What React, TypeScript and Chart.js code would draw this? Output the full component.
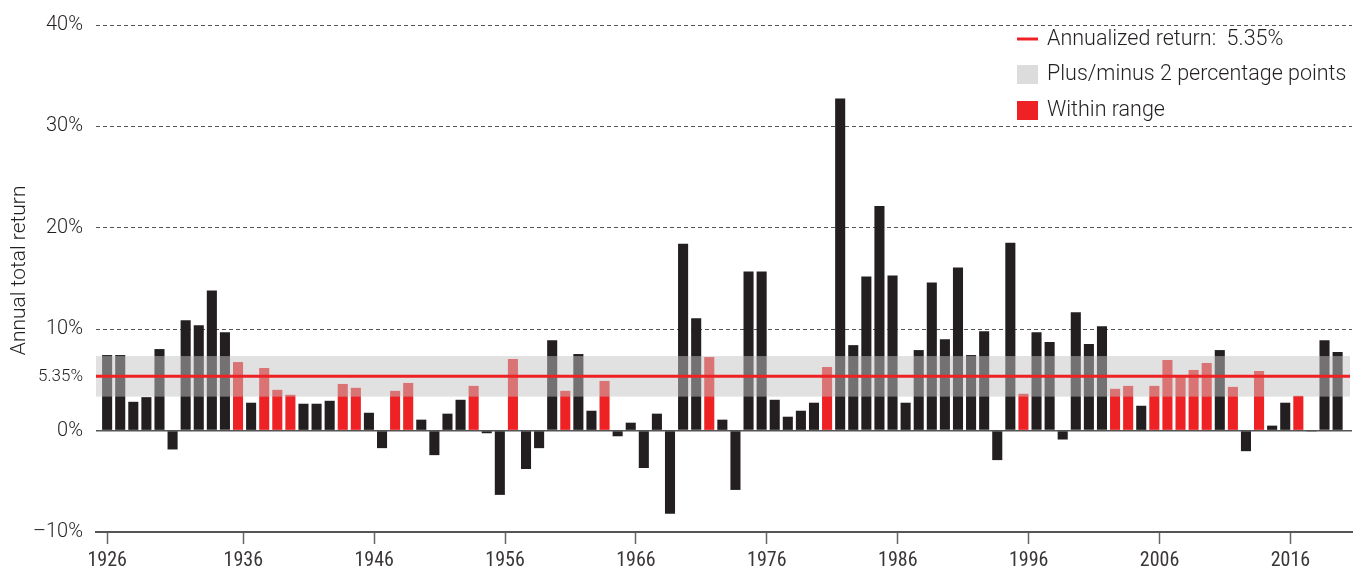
import React, { useEffect, useRef } from "react";
import { Chart, registerables } from "chart.js";

Chart.register(...registerables);

const years: number[] = [
  1926, 1927, 1928, 1929, 1930, 1931, 1932, 1933, 1934, 1935,
  1936, 1937, 1938, 1939, 1940, 1941, 1942, 1943, 1944, 1945,
  1946, 1947, 1948, 1949, 1950, 1951, 1952, 1953, 1954, 1955,
  1956, 1957, 1958, 1959, 1960, 1961, 1962, 1963, 1964, 1965,
  1966, 1967, 1968, 1969, 1970, 1971, 1972, 1973, 1974, 1975,
  1976, 1977, 1978, 1979, 1980, 1981, 1982, 1983, 1984, 1985,
  1986, 1987, 1988, 1989, 1990, 1991, 1992, 1993, 1994, 1995,
  1996, 1997, 1998, 1999, 2000, 2001, 2002, 2003, 2004, 2005,
  2006, 2007, 2008, 2009, 2010, 2011, 2012, 2013, 2014, 2015,
  2016, 2017, 2018, 2019, 2020,
];

const annualReturns: number[] = [
  7.45, 7.45, 2.84, 3.3, 8.04, -1.86, 10.88, 10.39, 13.82, 9.7,
  6.76, 2.75, 6.17, 4.02, 3.53, 2.65, 2.65, 2.94, 4.6, 4.22,
  1.76, -1.73, 3.92, 4.7, 1.08, -2.42, 1.67, 3.04, 4.41, -0.26,
  -6.34, 7.06, -3.79, -1.73, 8.92, 3.92, 7.55, 1.96, 4.9, -0.56,
  0.78, -3.69, 1.67, -8.2, 18.43, 11.08, 7.25, 1.08, -5.85, 15.69,
  15.69, 3.04, 1.37, 1.96, 2.75, 6.27, 32.75, 8.43, 15.2, 22.16,
  15.3, 2.75, 7.94, 14.6, 9.02, 16.08, 7.45, 9.8, -2.91, 18.53,
  3.63, 9.7, 8.73, -0.88, 11.67, 8.53, 10.29, 4.12, 4.41, 2.45,
  4.41, 6.96, 5.3, 5.98, 6.67, 7.94, 4.31, -2.03, 5.88, 0.49,
  2.75, 3.43, -0.1, 8.92, 7.75,
];

const annualizedReturn = 5.35;
const rangeHalfWidth = 2;
const yTickValues: number[] = [-10, 0, 5.35, 10, 20, 30, 40];
const xTickYears: number[] = [1926, 1936, 1946, 1956, 1966, 1976, 1986, 1996, 2006, 2016];
const legendLabels: string[] = [
  "Annualized return:  5.35%",
  "Plus/minus 2 percentage points",
  "Within range",
];
const yAxisTitle = "Annual total return";

const BLACK = "#231f20";
const RED = "#ee2224";
const FONT = "Roboto, 'Liberation Sans', Arial, sans-serif";
const NARROW = "'Liberation Sans Narrow', 'Arial Narrow', 'Roboto Condensed', sans-serif";
// the reference places decade ticks slightly right of the bar centres (except the first)
const X_TICK_SHIFT = 0.4;

export default function App() {
  const canvasRef = useRef<HTMLCanvasElement | null>(null);

  useEffect(() => {
    const canvas = canvasRef.current;
    if (!canvas) return;
    const lo = annualizedReturn - rangeHalfWidth;
    const hi = annualizedReturn + rangeHalfWidth;

    const overlayPlugin = {
      id: "overlay",
      afterDatasetsDraw(chart: any) {
        const { ctx, chartArea, scales } = chart;
        const y = scales.y;
        const yHi = y.getPixelForValue(hi);
        const yLo = y.getPixelForValue(lo);
        ctx.save();
        ctx.fillStyle = "rgba(196,196,196,0.5)";
        ctx.fillRect(chartArea.left, yHi, chartArea.right - chartArea.left - 2, yLo - yHi);
        const yAvg = y.getPixelForValue(annualizedReturn);
        ctx.strokeStyle = RED;
        ctx.lineWidth = 3;
        ctx.beginPath();
        ctx.moveTo(chartArea.left, yAvg);
        ctx.lineTo(chartArea.right - 2, yAvg);
        ctx.stroke();
        ctx.restore();
      },
      afterDraw(chart: any) {
        const { ctx, chartArea, scales } = chart;
        const y = scales.y;
        ctx.save();
        ctx.translate(20, y.getPixelForValue(15.8));
        ctx.rotate(-Math.PI / 2);
        ctx.font = `300 21px ${FONT}`;
        ctx.fillStyle = BLACK;
        ctx.textAlign = "center";
        ctx.textBaseline = "middle";
        ctx.fillText(yAxisTitle, 0, 0);
        ctx.restore();

        ctx.save();
        const x0 = chartArea.right - 335;
        const rows = [chartArea.top + 14, chartArea.top + 49, chartArea.top + 85];
        ctx.strokeStyle = RED;
        ctx.lineWidth = 3;
        ctx.beginPath();
        ctx.moveTo(x0, rows[0]);
        ctx.lineTo(x0 + 21, rows[0]);
        ctx.stroke();
        ctx.fillStyle = "#dcdcdc";
        ctx.fillRect(x0, rows[1] - 9, 21, 19);
        ctx.fillStyle = RED;
        ctx.fillRect(x0, rows[2] - 9, 21, 19);
        ctx.font = `300 21.5px ${FONT}`;
        ctx.fillStyle = BLACK;
        ctx.textAlign = "left";
        ctx.textBaseline = "middle";
        legendLabels.forEach((t, i) => ctx.fillText(t, x0 + 30, rows[i] + 1));
        ctx.restore();
      },
    };

    const chart = new Chart(canvas, {
      type: "bar",
      data: {
        datasets: [
          {
            data: years.map((yr, i) => ({ x: yr, y: annualReturns[i] })),
            backgroundColor: annualReturns.map((v) => (v >= lo && v <= hi ? RED : BLACK)),
            barPercentage: 0.77,
            categoryPercentage: 1,
            borderWidth: 0,
          },
        ],
      },
      options: {
        animation: false,
        responsive: true,
        maintainAspectRatio: false,
        layout: { padding: { left: 0, top: 22, right: 4, bottom: 0 } },
        plugins: { legend: { display: false }, tooltip: { enabled: false } },
        scales: {
          x: {
            type: "linear",
            offset: false,
            min: 1925.15,
            max: 2021.1,
            afterBuildTicks: (s: any) => {
              s.ticks = xTickYears.map((v, i) => ({ value: i === 0 ? v : v + X_TICK_SHIFT }));
            },
            afterFit: (s: any) => {
              s.height = 48;
            },
            grid: {
              drawOnChartArea: false,
              drawTicks: true,
              tickLength: 12,
              tickColor: "#666",
              tickWidth: 1.5,
              offset: false,
            },
            border: { display: true, color: "#555", width: 2 },
            ticks: {
              autoSkip: false,
              maxRotation: 0,
              padding: 5,
              color: "#3a3637",
              font: { family: NARROW, size: 20 },
              callback: (v: any) => String(Math.floor(Number(v))),
            },
          },
          y: {
            min: -10,
            max: 40,
            afterBuildTicks: (s: any) => {
              s.ticks = yTickValues.map((v) => ({ value: v }));
            },
            afterFit: (s: any) => {
              s.width = 96;
            },
            border: {
              display: false,
              dash: (ctx: any) => {
                const v = ctx.tick ? ctx.tick.value : 0;
                return v > 0 && v !== annualizedReturn ? [4, 3] : [];
              },
            },
            grid: {
              drawTicks: false,
              color: (ctx: any) => {
                const v = ctx.tick ? ctx.tick.value : 0;
                if (v === annualizedReturn || v === -10) return "rgba(0,0,0,0)";
                return "#555";
              },
              lineWidth: (ctx: any) => {
                const v = ctx.tick ? ctx.tick.value : 0;
                return v === 0 ? 1.5 : 1;
              },
            },
            ticks: {
              padding: 13,
              color: BLACK,
              font: (ctx: any) => {
                const v = ctx.tick ? ctx.tick.value : 0;
                return { family: FONT, size: v === annualizedReturn ? 17 : 20, weight: "300" };
              },
              callback: (v: any) => {
                if (v === annualizedReturn) return "5.35%";
                if (v < 0) return "\u2013" + Math.abs(v) + "%";
                return v + "%";
              },
            },
          },
        },
      },
      plugins: [overlayPlugin],
    });
    return () => chart.destroy();
  }, []);

  return (
    <div style={{ position: "absolute", left: 0, top: 0, width: 1356, height: 580 }}>
      <canvas ref={canvasRef} />
    </div>
  );
}
